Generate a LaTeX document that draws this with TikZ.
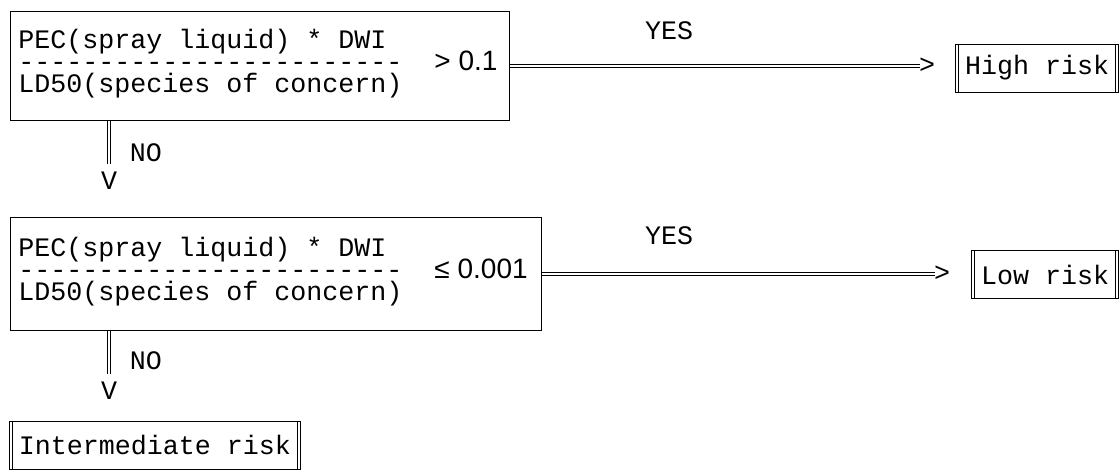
\documentclass[tikz,border=0pt]{standalone}
\usepackage{fontspec}
\setmonofont{Liberation Mono}
\setsansfont{Liberation Sans}
\usetikzlibrary{positioning}

% righe fitte nei riquadri dei test
\newcommand{\fitto}{\fontsize{20}{16.5}\selectfont\setlength{\lineskiplimit}{-20pt}}
% riga di fondo un po' piu' bassa, per alzare il testo nel riquadro
\newcommand{\fondo}{\rule[-7pt]{0pt}{7pt}}
% soglia del rapporto
\newcommand{\soglia}[1]{{\sffamily\fontsize{21}{16.5}\selectfont\setlength{\spaceskip}{0pt}#1}}

\tikzset{
  test/.style={draw, line width=0.6pt, anchor=north west, align=left, inner xsep=6pt,
    font=\ttfamily\fitto,
    execute at begin node={\setlength{\spaceskip}{12pt}}}, % spazi a passo fisso
  esito/.style={draw, line width=0.6pt, minimum height=36pt, inner xsep=7pt,
    font=\ttfamily\fontsize{20}{24}\selectfont},
  doppia/.style={double, double distance=1.8pt, line width=0.6pt},
  punta/.style={inner sep=0pt, font=\ttfamily\fontsize{20}{24}\selectfont},
  scritta/.style={inner sep=0pt, font=\ttfamily\fontsize{20}{24}\selectfont}
}

\begin{document}
\begin{tikzpicture}[x=0.75pt, y=-0.75pt]
        \useasboundingbox (0,0) rectangle (1120,470);

        % Primo test
        \node[test, text width=362.25pt, minimum height=81.75pt] (box1) at (10,11)
          {PEC(spray liquid) * DWI\\------------------------\ \ \soglia{> 0.1}\\LD50(species of concern)\fondo};

        % Secondo test
        \node[test, text width=386.25pt, minimum height=84.75pt] (box2) at (10,217)
          {PEC(spray liquid) * DWI\\------------------------\ \ \soglia{≤ 0.001}\\LD50(species of concern)\fondo};

        % Esiti
        \node[esito] (alto) at (1037,68) {High risk};
        \node[esito] (basso) at (1045,274.5) {Low risk};
        \node[esito] (medio) at (155,445) {Intermediate risk};
        \foreach \e in {alto,basso,medio} {
          \draw[line width=0.6pt] ([xshift=2.2pt]\e.north west) -- ([xshift=2.2pt]\e.south west);
          \draw[line width=0.6pt] ([xshift=-2.2pt]\e.north east) -- ([xshift=-2.2pt]\e.south east);
        }

        % Punte delle frecce
        \node[punta, right=306.75pt of box1] (p1) {>};
        \node[punta, right=294pt of box2] (p2) {>};
        \node[punta] (v1) at (109,181) {V};
        \node[punta] (v2) at (109,391) {V};

        % Frecce doppie
        \draw[doppia, shorten >=-1pt] (box1) -- (p1);
        \draw[doppia, shorten >=-1pt] (box2) -- (p2);
        \draw[doppia, shorten >=6pt] (v1 |- box1.south) -- (v1.north);
        \draw[doppia, shorten >=6pt] (v2 |- box2.south) -- (v2.north);

        % Etichette
        \node[scritta] (si1) at (669,31) {YES};
        \node[scritta] (si2) at (669,236) {YES};
        \node[scritta] (no1) at (146,153) {NO};
        \node[scritta] (no2) at (146,361) {NO};
    \end{tikzpicture}
\end{document}
